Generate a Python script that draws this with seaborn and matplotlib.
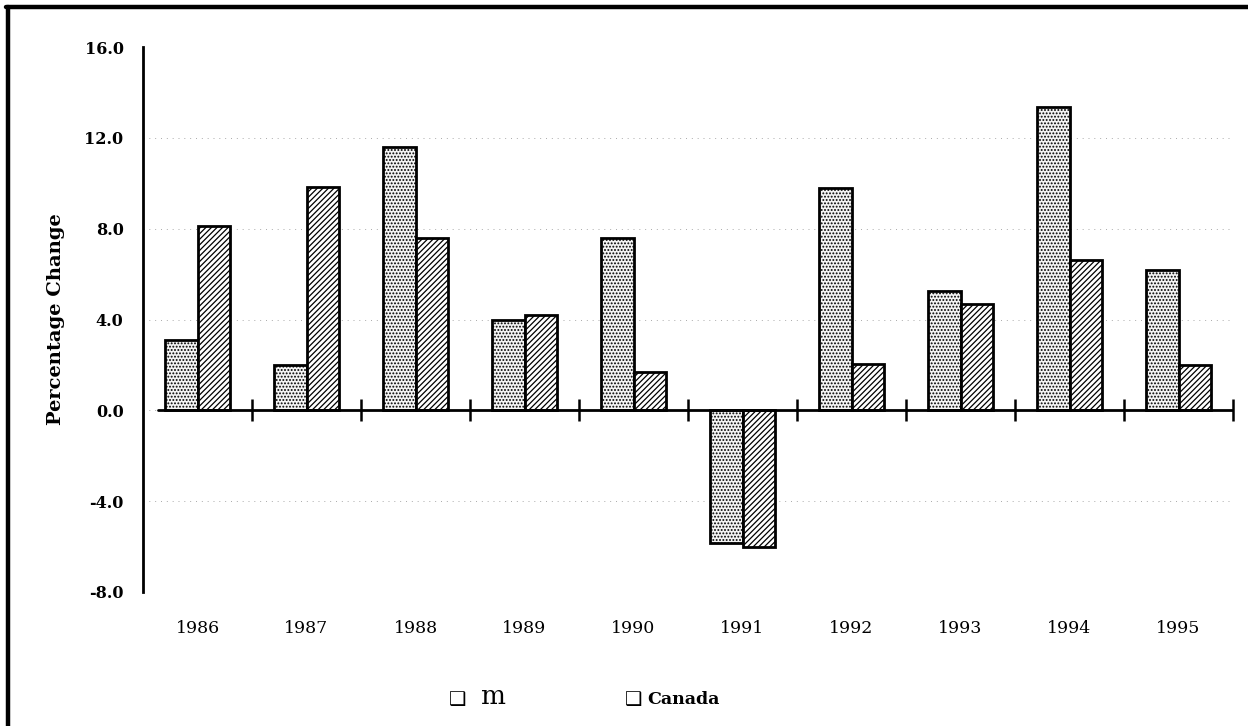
import numpy as np
import pandas as pd
import matplotlib
matplotlib.use("Agg")
import matplotlib.pyplot as plt
import seaborn as sns

# -------- data --------
years = ['1986', '1987', '1988', '1989', '1990', '1991', '1992', '1993', '1994', '1995']
series_names = ['m', 'Canada']
us_change = [3.1, 2.0, 11.6, 4.0, 7.6, -5.85, 9.8, 5.25, 13.35, 6.2]
canada_change = [8.1, 9.85, 7.6, 4.2, 1.7, -6.0, 2.05, 4.7, 6.6, 2.0]
y_ticks = [-8, -4, 0, 4, 8, 12, 16]

df = pd.DataFrame({
    'Year': years * 2,
    'Series': [series_names[0]] * len(years) + [series_names[1]] * len(years),
    'Change': us_change + canada_change,
})

# -------- style --------
sns.set_style('white')
plt.rcParams['font.family'] = ['DejaVu Serif', 'DejaVu Sans']
plt.rcParams['text.color'] = 'black'
plt.rcParams['xtick.color'] = 'black'
plt.rcParams['ytick.color'] = 'black'
plt.rcParams['axes.labelcolor'] = 'black'
plt.rcParams['hatch.linewidth'] = 0.9

fig = plt.figure(figsize=(12.48, 7.26), dpi=100)
ax = fig.add_axes([143 / 1248, 1 - 592 / 726, 1090 / 1248, 545 / 726])

sns.barplot(data=df, x='Year', y='Change', hue='Series', hue_order=series_names,
            order=years, width=0.59, dodge=True, legend=False, saturation=1,
            edgecolor='black', linewidth=2.0, errorbar=None, ax=ax)

# stipple for the first series, dense diagonal lines for Canada
for cont, hatch, hcol in zip(ax.containers, ['.....', '//////'], ['#666666', 'black']):
    for bar in cont:
        bar.set_facecolor('#f4f4f4' if hatch.startswith('.') else 'white')
        bar.set_hatch(hatch)
        if hasattr(bar, 'set_hatchcolor'):
            bar.set_hatchcolor(hcol)
        bar.set_zorder(3)

ax.set_xlim(-0.5, len(years) - 0.5)
ax.set_ylim(y_ticks[0], y_ticks[-1])
ax.set_yticks(y_ticks)
ax.set_yticklabels([f'{t:.1f}' for t in y_ticks], fontweight='bold', fontsize=11.5)
ax.set_xticks(range(len(years)))
ax.set_xticklabels(years, fontsize=12.5)
ax.tick_params(axis='x', length=0, pad=20)
ax.tick_params(axis='y', length=0, pad=14)
ax.set_xlabel('')
ax.set_ylabel('Percentage Change', fontweight='bold', fontsize=14, labelpad=14)

# faint dotted gridlines
ax.yaxis.grid(True, color='#aaaaaa', linestyle=(0, (1, 5)), linewidth=0.7)
ax.set_axisbelow(True)
gl = ax.yaxis.get_gridlines()
gl[0].set_visible(False)
gl[-1].set_visible(False)

for side in ['top', 'right', 'bottom']:
    ax.spines[side].set_visible(False)
ax.spines['left'].set_linewidth(2.0)
ax.spines['left'].set_color('black')

# zero line with group-boundary ticks
ax.axhline(0, xmin=0.014, color='black', linewidth=2.0, zorder=4)
zero_frac = (0 - y_ticks[0]) / (y_ticks[-1] - y_ticks[0])
sec = ax.secondary_xaxis(zero_frac)
sec.set_xticks(np.arange(0.5, len(years), 1.0))
sec.set_xticklabels([])
sec.tick_params(direction='inout', length=16, width=1.8, color='black')
for s in sec.spines.values():
    s.set_visible(False)

# legend as drawn in the source (plain boxes)
fig.text(449 / 1248, 1 - 699 / 726, '\u2751', fontsize=14, family=['DejaVu Sans'],
         ha='left', va='center')
fig.text(481 / 1248, 1 - 697 / 726, series_names[0], fontsize=19, ha='left', va='center')
fig.text(625 / 1248, 1 - 699 / 726, '\u2751', fontsize=14, family=['DejaVu Sans'],
         ha='left', va='center')
fig.text(647 / 1248, 1 - 700 / 726, series_names[1], fontsize=12.5, fontweight='bold',
         ha='left', va='center')

# page frame (left and top edges)
fig.add_artist(plt.Line2D([7.5 / 1248, 7.5 / 1248], [0, 1 - 7 / 726], color='black',
                          linewidth=3.2, transform=fig.transFigure))
fig.add_artist(plt.Line2D([6 / 1248, 1], [1 - 7 / 726, 1 - 7 / 726], color='black',
                          linewidth=3.2, transform=fig.transFigure))

fig.savefig('out.png', dpi=100)
